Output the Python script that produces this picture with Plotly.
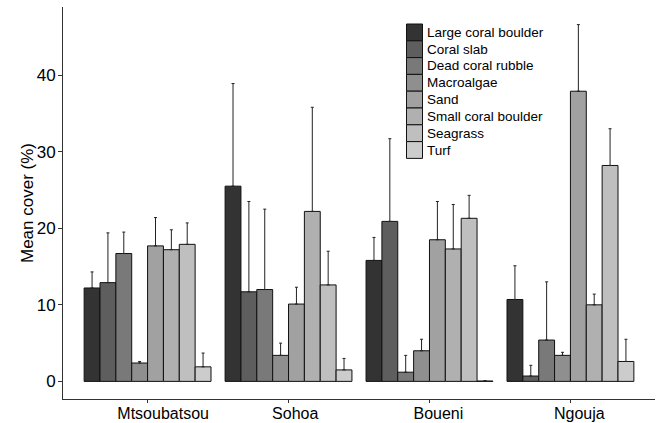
import plotly.graph_objects as go

sites = ["Mtsoubatsou", "Sohoa", "Boueni", "Ngouja"]
categories = ["Large coral boulder", "Coral slab", "Dead coral rubble", "Macroalgae",
              "Sand", "Small coral boulder", "Seagrass", "Turf"]
colors = ["#333333", "#5E5E5E", "#797979", "#8F8F8F", "#A1A1A1", "#B0B0B0", "#BFBFBF", "#CCCCCC"]

# mean cover per site (rows = categories, cols = sites)
large_coral_boulder = [12.2, 25.5, 15.8, 10.7]
coral_slab = [12.9, 11.7, 20.9, 0.7]
dead_coral_rubble = [16.7, 12.0, 1.2, 5.4]
macroalgae = [2.4, 3.4, 4.0, 3.4]
sand = [17.7, 10.1, 18.5, 37.9]
small_coral_boulder = [17.2, 22.2, 17.3, 10.0]
seagrass = [17.9, 12.6, 21.3, 28.2]
turf = [1.9, 1.5, 0.05, 2.6]

# upper error (SE)
err_large_coral_boulder = [2.1, 13.4, 3.0, 4.4]
err_coral_slab = [6.5, 11.8, 10.8, 1.4]
err_dead_coral_rubble = [2.8, 10.5, 2.2, 7.6]
err_macroalgae = [0.2, 1.6, 1.5, 0.4]
err_sand = [3.7, 2.2, 5.0, 8.7]
err_small_coral_boulder = [2.6, 13.6, 5.8, 1.4]
err_seagrass = [2.8, 4.4, 3.0, 4.8]
err_turf = [1.8, 1.5, 0.05, 2.9]

means = [large_coral_boulder, coral_slab, dead_coral_rubble, macroalgae,
         sand, small_coral_boulder, seagrass, turf]
errs = [err_large_coral_boulder, err_coral_slab, err_dead_coral_rubble, err_macroalgae,
        err_sand, err_small_coral_boulder, err_seagrass, err_turf]

FONT = "Liberation Sans, Arial, Helvetica, sans-serif"

fig = go.Figure()
for name, m, e, c in zip(categories, means, errs, colors):
    fig.add_trace(go.Bar(
        x=sites, y=m, name=name, showlegend=False,
        marker=dict(color=c, line=dict(color="#111111", width=1)),
        error_y=dict(type="data", array=e, arrayminus=[0] * len(e), symmetric=False,
                     color="#222222", thickness=1, width=1.5),
    ))

# tick labels slightly right-shifted like the original (hjust ~0.37)
ticktext = ["\u00a0" * round(0.6 * len(s)) + s for s in sites]

W, H = 662, 423
ml, mr, mt, mb = 63, 7, 7, 24
pw, ph = W - ml - mr, H - mt - mb

def px(x):
    return (x - ml) / pw

def py(y):
    return (H - mb - y) / ph

# manual legend (ggplot-style boxes)
shapes = []
annotations = []
box_x0, box_w, box_top, pitch = 406.5, 16, 24, 16.8
for i, (name, c) in enumerate(zip(categories, colors)):
    y0 = box_top + i * pitch
    shapes.append(dict(type="rect", xref="paper", yref="paper",
                       x0=px(box_x0), x1=px(box_x0 + box_w),
                       y0=py(y0 + pitch), y1=py(y0),
                       fillcolor=c, line=dict(color="#111111", width=1)))
    annotations.append(dict(xref="paper", yref="paper", x=px(box_x0 + box_w + 2),
                            y=py(y0 + pitch / 2), text=name, showarrow=False,
                            xanchor="left", yanchor="middle",
                            font=dict(family=FONT, size=13.5, color="black")))

# y-axis title as rotated text
annotations.append(dict(xref="paper", yref="y", x=px(27), y=(-2.3 + 48.9) / 2,
                        text="Mean cover (%)", textangle=-90, showarrow=False,
                        xanchor="center", yanchor="middle",
                        font=dict(family=FONT, size=17, color="black")))

fig.update_layout(
    width=W, height=H,
    margin=dict(l=ml, r=mr, t=mt, b=mb, autoexpand=False),
    paper_bgcolor="white", plot_bgcolor="white",
    barmode="group", bargap=0.1, bargroupgap=0,
    font=dict(family=FONT, size=17, color="black"),
    shapes=shapes, annotations=annotations,
    xaxis=dict(tickmode="array", tickvals=sites, ticktext=ticktext, automargin=False,
               range=[-0.6, 3.6], showline=True, linecolor="#333333", linewidth=1,
               ticks="outside", ticklen=3, tickcolor="#333333", showgrid=False,
               ticklabelstandoff=-3,
               tickfont=dict(family=FONT, size=16, color="black")),
    yaxis=dict(range=[-2.3, 48.9], tickvals=[0, 10, 20, 30, 40], automargin=False,
               showline=True, linecolor="#333333", linewidth=1,
               ticks="outside", ticklen=4, tickcolor="#333333", showgrid=False,
               zeroline=False, ticklabelstandoff=-1,
               tickfont=dict(family=FONT, size=17, color="black")),
)

fig.write_html("out.html", config={"displayModeBar": False},
               post_script="document.body.style.margin='0';")
